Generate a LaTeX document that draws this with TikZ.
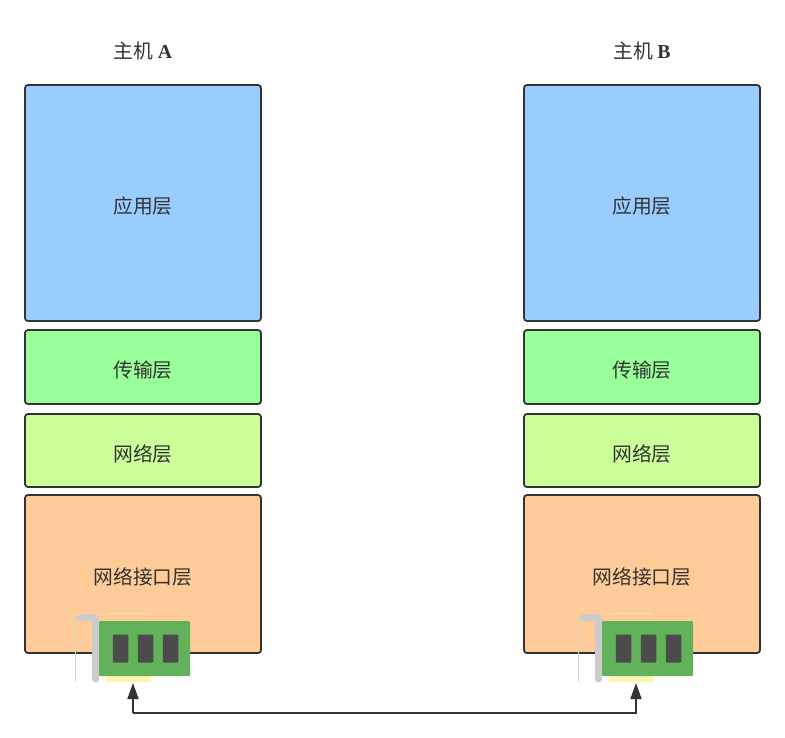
\documentclass[tikz,border=0pt]{standalone}
\usepackage{fontspec}
\usepackage{tikz}
\usetikzlibrary{positioning,arrows.meta,calc}
\newfontfamily\cjk{Noto Sans CJK SC}
\newfontfamily\hostlatin{Liberation Serif}
\definecolor{inkgray}{HTML}{333333}
\definecolor{appblue}{HTML}{99CCFF}
\definecolor{transgreen}{HTML}{99FF99}
\definecolor{netgreen}{HTML}{CCFF99}
\definecolor{linkorange}{HTML}{FFCC99}
\definecolor{nicgreen}{HTML}{62B25B}
\definecolor{chipgray}{HTML}{4B4B4B}
\definecolor{pinyellow}{HTML}{FBF6B0}
\definecolor{bracketgray}{HTML}{CCCCCC}

\begin{document}
\begin{tikzpicture}[
  x=1pt, y=-1pt,
  layerbox/.style={draw=inkgray, line width=1.8pt, rounded corners=3pt, minimum width=236pt, inner sep=0pt, outer sep=0pt, text height=21.5pt, text depth=0pt, align=center, text=inkgray, font=\fontsize{19.8}{23}\selectfont\cjk},
  hostlabel/.style={text=inkgray, inner sep=0pt, font=\fontsize{19.8}{23}\selectfont\cjk},
  card/.style={fill=nicgreen, rounded corners=1pt, minimum width=91pt, minimum height=55pt, inner sep=0pt, outer sep=0pt},
  chip/.style={fill=chipgray, rounded corners=1pt, minimum width=15.5pt, minimum height=28pt, inner sep=0pt, outer sep=0pt},
  pins/.style={fill=pinyellow, minimum width=45pt, minimum height=6pt, inner sep=0pt, outer sep=0pt},
  bracket/.style={draw=bracketgray, line width=7pt, line cap=round, line join=round},
  ghost/.style={draw=nicgreen!40, line width=0.6pt},
  pinedge/.style={draw=pinyellow!70!linkorange, line width=1pt},
  arr/.style={-{Triangle[length=16pt,width=11pt]}, draw=inkgray, line width=1.8pt},
]
\useasboundingbox (0,0) rectangle (785,737);

\node[hostlabel] (hostA) at (143,51) {主机 {\hostlatin\bfseries A}};
\node[hostlabel] (hostB) at (642,51) {主机 {\hostlatin\bfseries B}};

\node[layerbox, anchor=north west, fill=appblue, minimum height=236pt] (appA) at (25,85) {应用层};
\node[layerbox, below=9pt of appA, fill=transgreen, minimum height=74pt] (transA) {传输层};
\node[layerbox, below=10pt of transA, fill=netgreen, minimum height=73pt] (netA) {网络层};
\node[layerbox, below=8pt of netA, fill=linkorange, minimum height=158pt] (linkA) {网络接口层};

\node[layerbox, right=263pt of appA, fill=appblue, minimum height=236pt] (appB) {应用层};
\node[layerbox, below=9pt of appB, fill=transgreen, minimum height=74pt] (transB) {传输层};
\node[layerbox, below=10pt of transB, fill=netgreen, minimum height=73pt] (netB) {网络层};
\node[layerbox, below=8pt of netB, fill=linkorange, minimum height=158pt] (linkB) {网络接口层};

\draw[ghost] (75.5,617) -- (75.5,682);
\draw[pinedge] (107,613.5) -- (150,613.5);
\node[pins, anchor=north west] (pinsA) at (106,676) {};
\node[card, anchor=north west] (cardA) at (99,621) {};
\node[chip, xshift=1pt] (chipA2) at (cardA.center) {};
\node[chip, left=9.5pt of chipA2] (chipA1) {};
\node[chip, right=9.5pt of chipA2] (chipA3) {};
\draw[bracket] (80.5,617.5) -- (95.5,617.5) -- (95.5,679);

\draw[ghost] (578.5,617) -- (578.5,682);
\draw[pinedge] (610,613.5) -- (653,613.5);
\node[pins, anchor=north west] (pinsB) at (609,676) {};
\node[card, anchor=north west] (cardB) at (602,621) {};
\node[chip, xshift=1pt] (chipB2) at (cardB.center) {};
\node[chip, left=9.5pt of chipB2] (chipB1) {};
\node[chip, right=9.5pt of chipB2] (chipB3) {};
\draw[bracket] (583.5,617.5) -- (598.5,617.5) -- (598.5,679);

\coordinate (portA) at (133,683);
\coordinate (portB) at (636,683);
\coordinate (bus) at (384,713);
\draw[arr] (portA |- bus) -- (portA);
\draw[arr] (portA |- bus) -- (portB |- bus) -- (portB);
\end{tikzpicture}
\end{document}
